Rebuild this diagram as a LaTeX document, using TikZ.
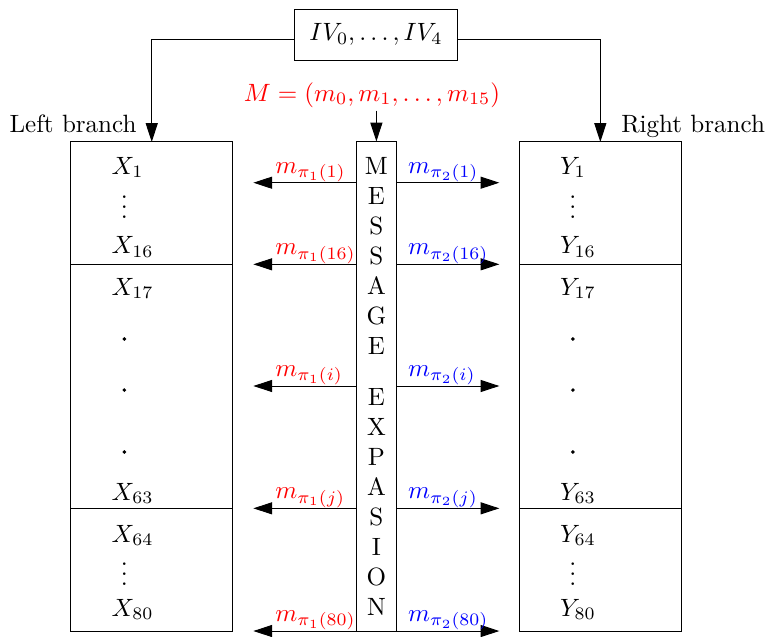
\documentclass[tikz,border=0pt]{standalone}
\usepackage{amsmath}
\usepackage{tikz}
\usetikzlibrary{arrows.meta,positioning}

\begin{document}
\begin{tikzpicture}[
  blk/.style={draw, minimum width=2.275cm, outer sep=0pt},
  item/.style={anchor=base west, inner sep=0pt},
  lab/.style={anchor=base west, inner sep=0pt},
  vd/.style={anchor=base, inner sep=0pt},
  dot/.style={circle, fill, inner sep=0.55pt},
  arr/.style={-{Triangle[length=7.5pt,width=4.8pt]}}
]
  \useasboundingbox (0,0) rectangle (10.80,-8.933);

  % IV box and message
  \node[draw, minimum width=2.295cm, minimum height=0.716cm] (iv) at (5.281,-0.489) {$IV_0,\ldots,IV_4$};
  \node[text=red, inner sep=1pt] (m) at (5.225,-1.334) {$M=(m_0,m_1,\ldots,m_{15})$};

  % Left branch
  \node[blk, minimum height=1.72cm] (l1) at (2.131,-2.854) {};
  \node[blk, minimum height=3.43cm, below=0pt of l1] (l2) {};
  \node[blk, minimum height=1.72cm, below=0pt of l2] (l3) {};
  \node[anchor=base east] (lname) at (2.041,-1.854) {Left branch};

  % Right branch
  \node[blk, minimum height=1.72cm] (r1) at (8.431,-2.854) {};
  \node[blk, minimum height=3.43cm, below=0pt of r1] (r2) {};
  \node[blk, minimum height=1.72cm, below=0pt of r2] (r3) {};
  \node[anchor=base west] (rname) at (8.601,-1.854) {Right branch};

  % Message expansion
  \node[draw, minimum width=0.572cm, minimum height=6.868cm, align=center, inner sep=1pt] (msg) at (5.286,-5.428)
    {M\\E\\S\\S\\A\\G\\E\\[0.3cm]E\\X\\P\\A\\S\\I\\O\\N};

  \draw[arr] ([yshift=-0.063cm]iv.west) -| (l1.north);
  \draw[arr] ([yshift=-0.063cm]iv.east) -| (r1.north);
  \draw[arr] (m.south -| msg.north) -- (msg.north);

  % Words of both branches
  \foreach \k/\y in {1/-2.444,16/-3.567,17/-4.143,63/-7.022,64/-7.612,80/-8.652}{
    \node[item] (x\k) at (1.56,\y) {$X_{\k}$};
    \node[item] (y\k) at (7.86,\y) {$Y_{\k}$};
  }
  \node[vd] (xv1) at (1.746,-3.072) {$\vdots$};
  \node[vd] (xv2) at (1.746,-8.226) {$\vdots$};
  \node[vd] (yv1) at (8.046,-3.072) {$\vdots$};
  \node[vd] (yv2) at (8.046,-8.226) {$\vdots$};
  \foreach \n/\y in {a/-4.761,b/-5.478,c/-6.348}{
    \node[dot] (xd\n) at (1.746,\y) {};
    \node[dot] (yd\n) at (8.046,\y) {};
  }

  % Expanded message words
  \foreach \n/\k/\y in {a/1/-2.566,b/16/-3.712,c/i/-5.421,d/j/-7.139,e/80/-8.862}{
    \coordinate (pl\n) at (3.558,\y);
    \coordinate (pr\n) at (7.013,\y);
    \draw[arr] (msg.west |- pl\n) -- (pl\n);
    \draw[arr] (msg.east |- pr\n) -- (pr\n);
    \node[lab, text=red] (ml\n) at (3.862,{\y+0.136}) {$m_{\pi_1(\k)}$};
    \node[lab, text=blue] (mr\n) at (5.726,{\y+0.136}) {$m_{\pi_2(\k)}$};
  }
\end{tikzpicture}
\end{document}
